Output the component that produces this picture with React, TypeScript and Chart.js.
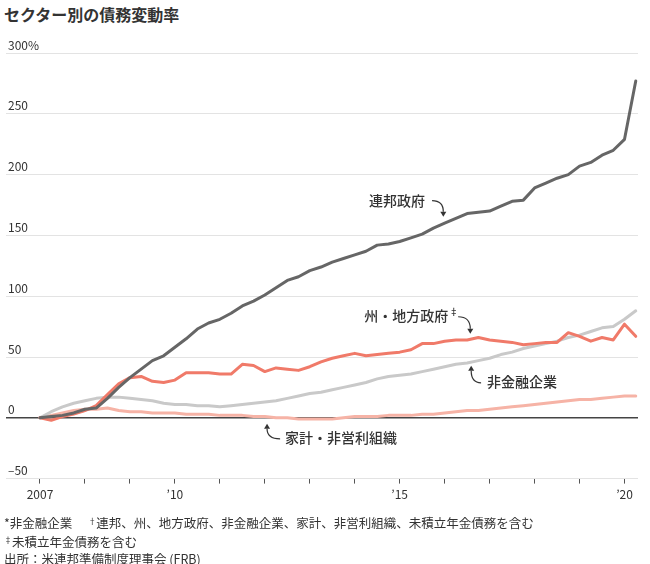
import React, { useEffect, useRef } from 'react';
import { Chart, registerables } from 'chart.js';

Chart.register(...registerables);

const FONT = '"Noto Sans CJK JP", "Noto Sans", sans-serif';

// Quarterly observations, 2007 Q1 – 2020 Q2
const START_YEAR = 2007;
const QUARTERS = Array.from({ length: 54 }, (_, i) => START_YEAR + i / 4);

const FEDERAL = [
  0, 1, 2, 4, 7, 8, 16, 25, 33, 40, 47, 51, 58, 65, 73, 78, 81, 86, 92, 96,
  101, 107, 113, 116, 121, 124, 128, 131, 134, 137, 142, 143, 145, 148, 151, 156, 160, 164, 168, 169,
  170, 174, 178, 179, 189, 193, 197, 200, 207, 210, 216, 220, 229, 277,
];
const STATE_LOCAL = [
  0, -2, 1, 3, 6, 10, 19, 28, 33, 34, 30, 29, 31, 37, 37, 37, 36, 36, 44, 43,
  38, 41, 40, 39, 42, 46, 49, 51, 53, 51, 52, 53, 54, 56, 61, 61, 63, 64, 64, 66,
  64, 63, 62, 60, 61, 62, 62, 70, 67, 63, 66, 64, 77, 67,
];
const NONFIN = [
  0, 5, 9, 12, 14, 16, 17, 17, 16, 15, 14, 12, 11, 11, 10, 10, 9, 10, 11, 12,
  13, 14, 16, 18, 20, 21, 23, 25, 27, 29, 32, 34, 35, 36, 38, 40, 42, 44, 45, 47,
  49, 52, 54, 57, 59, 61, 63, 66, 68, 71, 74, 75, 81, 88,
];
const HOUSEHOLD = [
  0, 2, 4, 6, 7, 7, 8, 6, 5, 5, 4, 4, 4, 3, 3, 3, 2, 2, 2, 1,
  1, 0, 0, -1, -1, -1, -1, 0, 1, 1, 1, 2, 2, 2, 3, 3, 4, 5, 6, 6,
  7, 8, 9, 10, 11, 12, 13, 14, 15, 15, 16, 17, 18, 18,
];

const SERIES_NAMES = ['連邦政府', '州・地方政府', '非金融企業', '家計・非営利組織'];
const X_TICK_YEARS = [2007, 2008, 2009, 2010, 2011, 2012, 2013, 2014, 2015, 2016, 2017, 2018, 2019, 2020];
const X_TICK_LABELS: Record<number, string> = { 2007: '2007', 2010: '’10', 2015: '’15', 2020: '’20' };
const Y_MIN = -50;
const Y_MAX = 300;
const Y_STEP = 50;

const TITLE = 'セクター別の債務変動率';

// Annotation label placement, in data coordinates
const ANNOTATIONS = [
  { text: '連邦政府', sup: '', lx: 2014.32, ly: 178.6, sx: 2015.72, sy: 178.6, tx: 2015.97, ty: 165.4 },
  { text: '州・地方政府', sup: '‡', lx: 2014.21, ly: 84, sx: 2016.3, sy: 83.1, tx: 2016.57, ty: 69.1 },
  { text: '非金融企業', sup: '', lx: 2016.94, ly: 29.6, sx: 2016.81, sy: 28.8, tx: 2016.59, ty: 42.8 },
  { text: '家計・非営利組織', sup: '', lx: 2012.45, ly: -16.5, sx: 2012.34, sy: -17.3, tx: 2012.05, ty: -4.9 },
];

const annotationPlugin = {
  id: 'labels',
  afterDatasetsDraw(chart: any) {
    const ctx = chart.ctx;
    const xs = chart.scales.x;
    const ys = chart.scales.y;
    ctx.save();
    ctx.fillStyle = '#333';
    ctx.strokeStyle = '#333';
    ctx.lineWidth = 1.2;
    ctx.textBaseline = 'middle';
    ctx.textAlign = 'left';
    for (const a of ANNOTATIONS) {
      const lx = xs.getPixelForValue(a.lx);
      const ly = ys.getPixelForValue(a.ly);
      ctx.font = `500 14px ${FONT}`;
      ctx.fillText(a.text, lx, ly);
      if (a.sup) {
        const w = ctx.measureText(a.text).width;
        ctx.font = `500 9px ${FONT}`;
        ctx.fillText(a.sup, lx + w + 1, ly - 4);
      }
      const sx = xs.getPixelForValue(a.sx);
      const sy = ys.getPixelForValue(a.sy);
      const tx = xs.getPixelForValue(a.tx);
      const ty = ys.getPixelForValue(a.ty);
      const dir = ty > sy ? 1 : -1;
      const baseY = ty - dir * 5;
      ctx.beginPath();
      ctx.moveTo(sx, sy);
      ctx.quadraticCurveTo(tx, sy, tx, baseY);
      ctx.stroke();
      ctx.beginPath();
      ctx.moveTo(tx, ty);
      ctx.lineTo(tx - 3, baseY);
      ctx.lineTo(tx + 3, baseY);
      ctx.closePath();
      ctx.fill();
    }
    ctx.restore();
  },
};

function series(values: number[]) {
  return QUARTERS.map((q, i) => ({ x: q, y: values[i] }));
}

export default function App() {
  const ref = useRef<HTMLCanvasElement | null>(null);

  useEffect(() => {
    if (!ref.current) return;
    const line = (label: string, values: number[], color: string) => ({
      label,
      data: series(values),
      borderColor: color,
      backgroundColor: color,
      borderWidth: 3,
      pointRadius: 0,
      tension: 0,
      borderJoinStyle: 'round' as const,
      borderCapStyle: 'round' as const,
    });
    const chart = new Chart(ref.current, {
      type: 'line',
      data: {
        datasets: [
          line(SERIES_NAMES[0], FEDERAL, '#666666'),
          line(SERIES_NAMES[1], STATE_LOCAL, '#f07a69'),
          line(SERIES_NAMES[2], NONFIN, '#c9c9c9'),
          line(SERIES_NAMES[3], HOUSEHOLD, '#f6b3a6'),
        ],
      },
      options: {
        animation: false,
        responsive: true,
        maintainAspectRatio: false,
        layout: { padding: { left: 2, right: 12, top: 53, bottom: 0 } },
        plugins: { legend: { display: false }, tooltip: { enabled: false }, title: { display: false } },
        scales: {
          x: {
            type: 'linear',
            min: 2006.244,
            max: 2020.3,
            afterBuildTicks: (axis: any) => {
              axis.ticks = X_TICK_YEARS.map((v) => ({ value: v }));
            },
            ticks: {
              autoSkip: false,
              maxRotation: 0,
              padding: 4,
              color: '#333',
              font: { family: FONT, size: 12 },
              callback: (v: any) => X_TICK_LABELS[v as number] ?? '',
            },
            grid: { drawOnChartArea: false, drawTicks: true, tickLength: 5, color: '#555', lineWidth: 1 },
            border: { display: false },
          },
          y: {
            type: 'linear',
            min: Y_MIN,
            max: Y_MAX,
            ticks: {
              stepSize: Y_STEP,
              mirror: true,
              padding: 2,
              labelOffset: -8,
              color: '#333',
              font: { family: FONT, size: 12 },
              callback: (v: any) => (v === Y_MAX ? `${v}%` : v < 0 ? `–${Math.abs(v)}` : `${v}`),
            },
            grid: {
              drawTicks: false,
              color: (c: any) => (c.tick && c.tick.value === 0 ? '#444' : '#e3e3e3'),
              lineWidth: (c: any) => (c.tick && c.tick.value === 0 ? 1.5 : 1),
            },
            border: { display: false },
          },
        },
      },
      plugins: [annotationPlugin],
    });
    return () => chart.destroy();
  }, []);

  return (
    <div style={{ position: 'fixed', left: 0, top: 0, width: 650, height: 564, background: '#fff', fontFamily: FONT, color: '#333' }}>
      <div style={{ position: 'absolute', left: 4, top: 2, fontSize: 16, fontWeight: 700, lineHeight: '24px', whiteSpace: 'nowrap' }}>
        {TITLE}
      </div>
      <div style={{ position: 'absolute', left: 0, top: 0, width: 650, height: 506 }}>
        <canvas ref={ref} />
      </div>
      <div style={{ position: 'absolute', left: 4, top: 512, fontSize: 12.5, lineHeight: '17px', whiteSpace: 'nowrap' }}>
        <div>
          *非金融企業<span style={{ display: 'inline-block', width: 16 }} />
          <sup style={{ fontSize: 8, verticalAlign: 4 }}>†</sup>連邦、州、地方政府、非金融企業、家計、非営利組織、未積立年金債務を含む
        </div>
        <div>
          <sup style={{ fontSize: 8, verticalAlign: 4 }}>‡</sup>未積立年金債務を含む
        </div>
        <div>出所：米連邦準備制度理事会 (FRB)</div>
      </div>
    </div>
  );
}
